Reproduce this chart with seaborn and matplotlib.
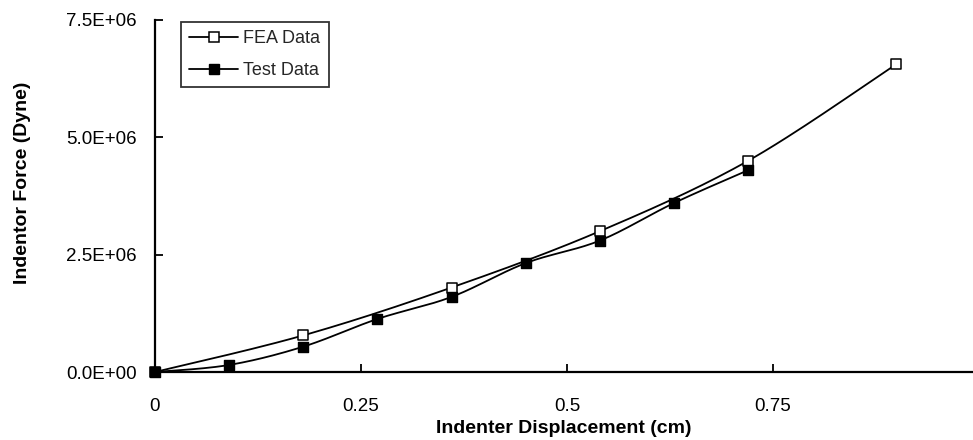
import numpy as np
import pandas as pd
import matplotlib
matplotlib.use("Agg")
import matplotlib.pyplot as plt
from matplotlib.lines import Line2D
from matplotlib.ticker import FuncFormatter
import seaborn as sns

# ---- data ----
fea_x = [0.0, 0.18, 0.36, 0.54, 0.72, 0.90]
fea_y = [0.0, 0.78e6, 1.80e6, 3.00e6, 4.50e6, 6.56e6]
test_x = [0.0, 0.09, 0.18, 0.27, 0.36, 0.45, 0.54, 0.63, 0.72]
test_y = [0.0, 0.15e6, 0.54e6, 1.13e6, 1.60e6, 2.32e6, 2.80e6, 3.60e6, 4.30e6]
x_ticks = [0, 0.25, 0.5, 0.75]
x_tick_labels = ["0", "0.25", "0.5", "0.75"]
y_ticks = [0, 2.5e6, 5.0e6, 7.5e6]

sns.set_theme(style="white")
plt.rcParams['font.family'] = ['Liberation Sans', 'DejaVu Sans']


def smooth(xs, ys, n=30):
    """Excel-like smoothed line (Catmull-Rom as cubic Bezier) through points."""
    P = np.column_stack([xs, ys]).astype(float)
    m = len(P)
    out = [P[0]]
    t = np.linspace(0, 1, n)[1:, None]
    for i in range(m - 1):
        p0 = P[i - 1] if i > 0 else P[i]
        p1, p2 = P[i], P[i + 1]
        p3 = P[i + 2] if i + 2 < m else P[i + 1]
        c1 = p1 + (p2 - p0) / 6.0
        c2 = p2 - (p3 - p1) / 6.0
        seg = ((1 - t) ** 3) * p1 + 3 * ((1 - t) ** 2) * t * c1 + 3 * (1 - t) * t ** 2 * c2 + t ** 3 * p2
        out.extend(seg)
    out = np.array(out)
    return out[:, 0], out[:, 1]


fig = plt.figure(figsize=(9.73, 4.40), dpi=100)
ax = fig.add_axes([155 / 973, 1 - 372 / 440, 1 - 155 / 973, 352 / 440])

fea = pd.DataFrame({"x": fea_x, "y": fea_y})
test = pd.DataFrame({"x": test_x, "y": test_y})

for df in (fea, test):
    sx, sy = smooth(df["x"].values, df["y"].values)
    ax.plot(sx, sy, color="black", lw=1.3, zorder=2, solid_capstyle="round",
            clip_on=False)

sns.scatterplot(data=fea, x="x", y="y", marker="s", s=46, color="white",
                edgecolor="black", linewidth=1.1, zorder=4, ax=ax, legend=False,
                clip_on=False)
sns.scatterplot(data=test, x="x", y="y", marker="s", s=46, color="black",
                edgecolor="black", linewidth=1.0, zorder=5, ax=ax, legend=False,
                clip_on=False)

ax.set_xlim(0, 0.993)
ax.set_ylim(0, 7.5e6)
ax.set_xticks(x_ticks)
ax.set_xticklabels(x_tick_labels)
ax.set_yticks(y_ticks)
ax.yaxis.set_major_formatter(FuncFormatter(lambda v, p: f"{v:.1E}"))

for s in ("top", "right"):
    ax.spines[s].set_visible(False)
for s in ("left", "bottom"):
    ax.spines[s].set_color("black")
    ax.spines[s].set_linewidth(1.6)

ax.tick_params(axis="x", direction="in", length=6, width=1.3, pad=19,
               labelsize=13.5, colors="black", bottom=True)
ax.tick_params(axis="y", direction="in", length=6, width=1.3, pad=13,
               labelsize=13.5, colors="black", left=True)

ax.set_xlabel("Indenter Displacement (cm)", fontsize=14, fontweight="bold",
              color="black", labelpad=3)
ax.set_ylabel("Indentor Force (Dyne)", fontsize=14, fontweight="bold",
              color="black")
ax.yaxis.set_label_coords(-0.152, 0.537)

handles = [
    Line2D([0], [0], color="black", lw=1.3, marker="s", markersize=6.5,
           markerfacecolor="white", markeredgecolor="black", markeredgewidth=1.1),
    Line2D([0], [0], color="black", lw=1.3, marker="s", markersize=6.5,
           markerfacecolor="black", markeredgecolor="black"),
]
leg = ax.legend(handles, ["FEA Data", "Test Data"], loc="upper left",
                bbox_to_anchor=(0.032, 0.995), fontsize=13, frameon=True,
                fancybox=False, edgecolor="black", handlelength=2.7,
                handletextpad=0.3, labelspacing=0.85, borderpad=0.45,
                borderaxespad=0)
leg.get_frame().set_linewidth(1.3)

fig.savefig("out.png", dpi=100, facecolor="white")
